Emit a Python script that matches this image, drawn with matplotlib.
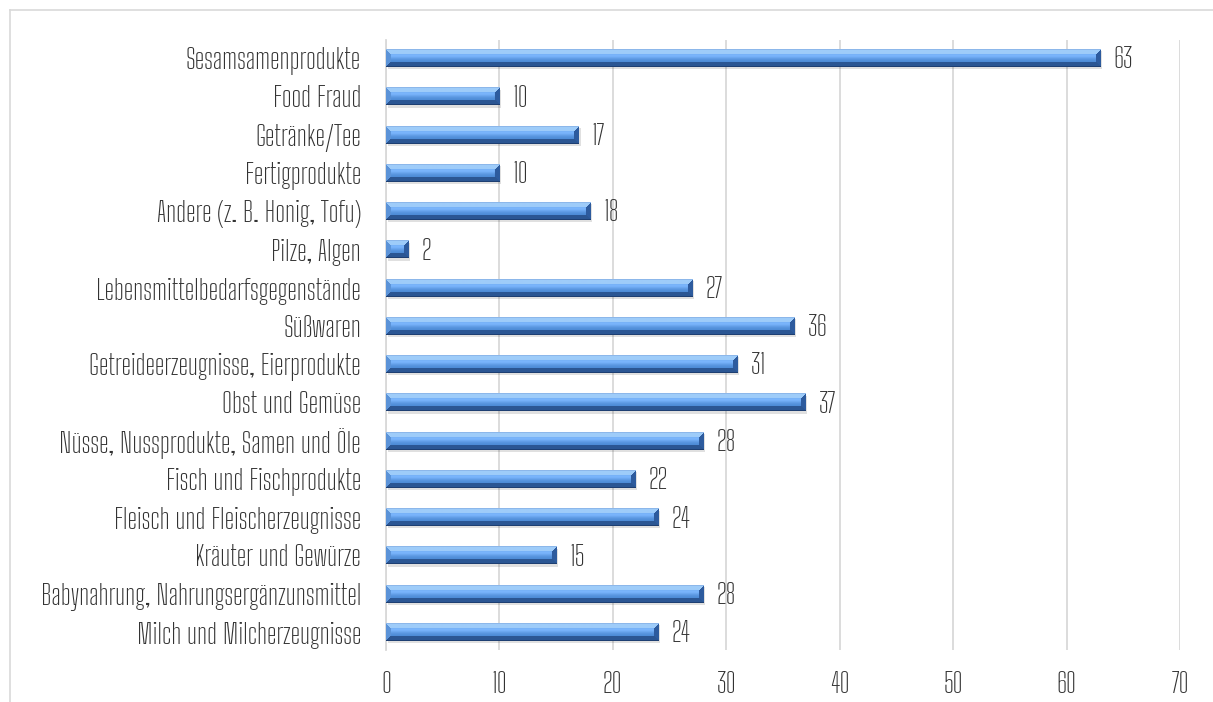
import matplotlib
matplotlib.use("Agg")
import matplotlib.pyplot as plt
import numpy as np
from matplotlib.lines import Line2D

categories = [
    "Sesamsamenprodukte",
    "Food Fraud",
    "Getränke/Tee",
    "Fertigprodukte",
    "Andere (z. B. Honig, Tofu)",
    "Pilze, Algen",
    "Lebensmittelbedarfsgegenstände",
    "Süßwaren",
    "Getreideerzeugnisse, Eierprodukte",
    "Obst und Gemüse",
    "Nüsse, Nussprodukte, Samen und Öle",
    "Fisch und Fischprodukte",
    "Fleisch und Fleischerzeugnisse",
    "Kräuter und Gewürze",
    "Babynahrung, Nahrungsergänzunsmittel",
    "Milch und Milcherzeugnisse",
]
values = [63, 10, 17, 10, 18, 2, 27, 36, 31, 37, 28, 22, 24, 15, 28, 24]
xticks = [0, 10, 20, 30, 40, 50, 60, 70]

plt.rcParams["font.family"] = ["Big Shoulders Text", "Saira Extra Condensed",
                               "Barlow Condensed", "DejaVu Sans"]
TXT = "#333333"
GRID = "#d9d9d9"
FS = 20.5

W, H, DPI = 1213, 702, 100
fig = plt.figure(figsize=(W / DPI, H / DPI), dpi=DPI)
ax = fig.add_axes([386 / W, 1 - 650 / H, (1180 - 386) / W, (650 - 40) / H])

y = np.arange(len(categories))
bh = 0.47
bars = ax.barh(y, values, height=bh, color="#4a86d0", zorder=3)

ax.set_xlim(0, 70)
ax.set_ylim(len(categories) - 1 + 0.47, -0.47)

# px per data unit, used to size the bevel
px_x = (1180 - 386) / 70.0
px_y = (650 - 40) / (len(categories) - 1 + 0.94)

face_top = np.array([0.45, 0.67, 0.93])
face_bot = np.array([0.25, 0.50, 0.81])
c_top = np.array([0.62, 0.80, 0.98])
c_left = np.array([0.36, 0.58, 0.85])
c_right = np.array([0.18, 0.36, 0.62])
c_bot = np.array([0.17, 0.34, 0.58])

for rect in bars:
    x0, yc0 = rect.get_x(), rect.get_y()
    w, h = rect.get_width(), rect.get_height()
    nx = max(int(round(w * px_x)), 2)
    ny = max(int(round(h * px_y)), 2)
    ii, jj = np.mgrid[0:ny, 0:nx]
    d_top = ii + 0.5
    d_bot = ny - ii - 0.5
    d_left = jj + 0.5
    d_right = nx - jj - 0.5
    t = (ii / (ny - 1))[..., None]
    img = face_top * (1 - t) + face_bot * t
    # light stripe through the upper face
    stripe = np.exp(-((ii - ny * 0.35) / (ny * 0.15)) ** 2)[..., None]
    img = img + stripe * 0.10
    b = 5.0
    dmin = np.minimum.reduce([d_top, d_bot, d_left, d_right])
    edge = dmin < b
    which = np.argmin(np.stack([d_top, d_bot, d_left, d_right]), axis=0)
    for k, c in enumerate([c_top, c_bot, c_left, c_right]):
        img[edge & (which == k)] = c
    img[ii == 0] = [0.55, 0.72, 0.92]
    img[ii == ny - 1] = [0.12, 0.25, 0.45]
    img = np.clip(img, 0, 1)
    # soft shadow under the bar
    ax.add_patch(plt.Rectangle((x0 + 0.15, yc0 + 0.06), w, h, color="#000000",
                               alpha=0.12, lw=0, zorder=2))
    ax.imshow(img, extent=(x0, x0 + w, yc0 + h, yc0), aspect="auto",
              interpolation="bilinear", zorder=4)

for yi, v in zip(y, values):
    ax.text(v + 1.15, yi + 0.06, str(v), va="center", ha="left", fontsize=FS,
            color=TXT, zorder=5)

ax.set_xlim(0, 70)
ax.set_ylim(len(categories) - 1 + 0.47, -0.47)
ax.set_xticks(xticks)
ax.set_yticks(y)
ax.set_yticklabels(categories)
ax.tick_params(axis="both", length=0, labelsize=FS, labelcolor=TXT)
ax.tick_params(axis="x", pad=15)
ax.tick_params(axis="y", pad=18)
ax.grid(True, axis="x", color=GRID, lw=1.3, zorder=0)
ax.set_axisbelow(True)
for s in ["top", "right", "bottom"]:
    ax.spines[s].set_visible(False)
ax.spines["left"].set_color(GRID)
ax.spines["left"].set_linewidth(1.3)

# outer chart frame, cut off at the right and bottom edges
fig.add_artist(Line2D([10 / W, 1], [1 - 10 / H, 1 - 10 / H], color=GRID, lw=1.2,
                      transform=fig.transFigure))
fig.add_artist(Line2D([10 / W, 10 / W], [0, 1 - 10 / H], color=GRID, lw=1.2,
                      transform=fig.transFigure))

fig.savefig("out.png", dpi=DPI)
